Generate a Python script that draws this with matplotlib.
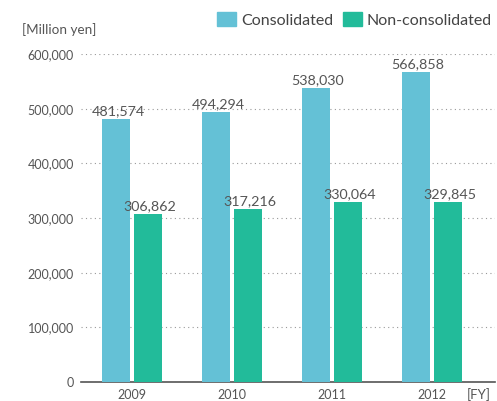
import matplotlib
matplotlib.use("Agg")
import matplotlib.pyplot as plt
from matplotlib.patches import Patch
import numpy as np

years = ["2009", "2010", "2011", "2012"]
consolidated = [481574, 494294, 538030, 566858]
non_consolidated = [306862, 317216, 330064, 329845]
yticks = [0, 100000, 200000, 300000, 400000, 500000, 600000]

plt.rcParams['font.family'] = ['Lato', 'DejaVu Sans']
c1 = "#64C1D6"
c2 = "#22BB9A"
tc = "#555555"

fig = plt.figure(figsize=(4.97, 4.01), dpi=100)
ax = fig.add_axes([81/497, 1-382/401, 414/497, 328/401])
x = np.arange(len(years))
w = 0.28
b1 = ax.bar(x - 0.16, consolidated, w, color=c1, zorder=3)
b2 = ax.bar(x + 0.16, non_consolidated, w, color=c2, zorder=3)
for bars in (b1, b2):
    for r in bars:
        ax.text(r.get_x() + r.get_width()/2 + 0.02, r.get_height() + 3000,
                f"{int(r.get_height()):,}", ha="center", va="bottom",
                fontsize=10.3, color=tc, zorder=4)
ax.set_xlim(-0.51, 3.63)
ax.set_ylim(0, 600000)
ax.set_yticks(yticks)
ax.set_yticklabels([f"{v:,}" for v in yticks])
ax.set_xticks(x)
ax.set_xticklabels(years)
ax.tick_params(axis="both", length=0, colors=tc, labelsize=9)
ax.tick_params(axis="y", pad=5)
ax.tick_params(axis="x", pad=5)
for s in ["top", "right", "left"]:
    ax.spines[s].set_visible(False)
ax.spines["bottom"].set_color("#555555")
ax.spines["bottom"].set_linewidth(1.2)
ax.yaxis.grid(True, linestyle=(0, (1, 3)), color="#999999", linewidth=0.8, zorder=0)
ax.set_axisbelow(True)

fig.text(22/497, 1-30/401, "[Million yen]", fontsize=9.7, color=tc, va="center", ha="left")
fig.text(491/497, 1-395/401, "[FY]", fontsize=9.5, color=tc, va="center", ha="right")

handles = [Patch(color=c1, label="Consolidated"), Patch(color=c2, label="Non-consolidated")]
leg = fig.legend(handles=handles, loc="center right", bbox_to_anchor=(492/497, 1-20/401),
                 ncol=2, frameon=False, fontsize=11.5, handlelength=1.2, handleheight=1.0,
                 handletextpad=0.3, columnspacing=0.6, borderaxespad=0, borderpad=0)
for t in leg.get_texts():
    t.set_color("#444444")

fig.savefig("out.png", dpi=100)
